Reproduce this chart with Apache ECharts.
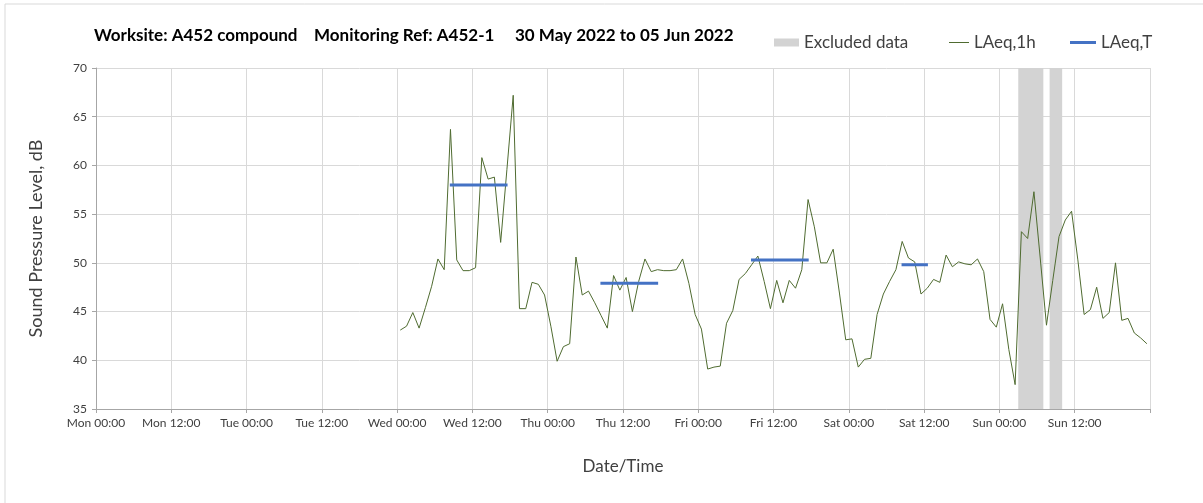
<!DOCTYPE html>
<html>
<head>
<meta charset="utf-8">
<script src="https://cdn.jsdelivr.net/npm/echarts@6/dist/echarts.min.js"></script>
<style>
    html, body { margin: 0; padding: 0; background: #fff; }
    #chart { width: 1203px; height: 503px; }
</style>
</head>
<body>
<div id="chart"></div>
<script>
// x = hours from Mon 00:00, one reading per hour (plotted at hh:30)
var tickLabels = ['Mon 00:00', 'Mon 12:00', 'Tue 00:00', 'Tue 12:00', 'Wed 00:00', 'Wed 12:00',
    'Thu 00:00', 'Thu 12:00', 'Fri 00:00', 'Fri 12:00', 'Sat 00:00', 'Sat 12:00', 'Sun 00:00', 'Sun 12:00'];

var firstHour = 48.5;
var wedValues = [43.1, 43.5, 44.9, 43.3, 45.4, 47.6, 50.4, 49.3, 63.7, 50.3, 49.2, 49.2,
    49.5, 60.8, 58.6, 58.8, 52.1, 59.6, 67.2, 45.3, 45.3, 48.0, 47.8, 46.7];
var thuValues = [43.5, 39.9, 41.4, 41.7, 50.6, 46.7, 47.1, 45.9, 44.6, 43.3, 48.7, 47.2,
    48.5, 45.0, 48.1, 50.4, 49.1, 49.3, 49.2, 49.2, 49.3, 50.4, 47.9, 44.7];
var friValues = [43.2, 39.1, 39.3, 39.4, 43.8, 45.1, 48.3, 48.9, 49.8, 50.7, 48.1, 45.3,
    48.2, 45.9, 48.2, 47.4, 49.3, 56.5, 53.7, 50.0, 50.0, 51.4, 46.9, 42.1];
var satValues = [42.2, 39.3, 40.1, 40.2, 44.7, 46.8, 48.1, 49.3, 52.2, 50.5, 50.1, 46.8,
    47.4, 48.3, 48.0, 50.8, 49.6, 50.1, 49.9, 49.8, 50.4, 49.1, 44.2, 43.4];
var sunValues = [45.8, 41.1, 37.5, 53.2, 52.5, 57.3, 50.5, 43.6, 48.2, 52.7, 54.4, 55.3,
    50.3, 44.7, 45.2, 47.5, 44.3, 44.9, 50.0, 44.1, 44.3, 42.8, 42.3, 41.7];

// LAeq,T periods
var periodStart = [56.4, 80.4, 104.4, 128.4];
var periodEnd = [65.6, 89.6, 113.6, 132.6];
var periodValue = [58.0, 47.9, 50.3, 49.8];

// excluded data bands
var excludedStart = [147, 152];
var excludedEnd = [151, 154];

var allValues = wedValues.concat(thuValues, friValues, satValues, sunValues);
var hourlyData = [];
for (var i = 0; i < allValues.length; i++) {
    hourlyData.push([firstHour + i, allValues[i]]);
}

var bands = [];
for (var j = 0; j < excludedStart.length; j++) {
    bands.push([{xAxis: excludedStart[j]}, {xAxis: excludedEnd[j]}]);
}

var fontName = 'Lato';
var series = [
    {
        name: 'Excluded data',
        type: 'line',
        data: [],
        z: 1,
        markArea: {
            silent: true,
            itemStyle: {color: '#d3d3d3'},
            data: bands
        }
    },
    {
        name: 'LAeq,1h',
        type: 'line',
        data: hourlyData,
        symbol: 'none',
        z: 3,
        lineStyle: {color: '#4f6b30', width: 1},
        itemStyle: {color: '#4f6b30'}
    }
];
for (var k = 0; k < periodStart.length; k++) {
    series.push({
        name: 'LAeq,T',
        type: 'line',
        data: [[periodStart[k], periodValue[k]], [periodEnd[k], periodValue[k]]],
        symbol: 'none',
        z: 4,
        lineStyle: {color: '#4472c4', width: 3},
        itemStyle: {color: '#4472c4'}
    });
}

var legendText = {fontFamily: fontName, fontSize: 17, color: '#404040'};
var option = {
    animation: false,
    title: {
        text: 'Worksite: A452 compound    Monitoring Ref: A452-1     30 May 2022 to 05 Jun 2022',
        left: 89,
        top: 22,
        textStyle: {fontFamily: fontName, fontSize: 17, fontWeight: 'bold', color: '#000'}
    },
    legend: [
        {
            left: 769, top: 29, itemWidth: 25, itemHeight: 8, itemGap: 4,
            textStyle: legendText,
            data: [{name: 'Excluded data', icon: 'rect', itemStyle: {color: '#d3d3d3'}}]
        },
        {
            left: 944, top: 29, itemWidth: 20, itemHeight: 1,
            textStyle: legendText,
            data: [{name: 'LAeq,1h', icon: 'rect', itemStyle: {color: '#4f6b30'}}]
        },
        {
            left: 1065, top: 29, itemWidth: 26, itemHeight: 3,
            textStyle: legendText,
            data: [{name: 'LAeq,T', icon: 'rect', itemStyle: {color: '#4472c4'}}]
        }
    ],
    grid: {left: 96, right: 53, top: 68, bottom: 94},
    xAxis: {
        type: 'value',
        min: 0,
        max: 168,
        interval: 12,
        name: 'Date/Time',
        nameLocation: 'middle',
        nameGap: 49,
        nameTextStyle: {fontFamily: fontName, fontSize: 17, color: '#404040'},
        axisLine: {lineStyle: {color: '#a6a6a6', width: 1}},
        axisTick: {show: true, length: 4, lineStyle: {color: '#a6a6a6'}},
        splitLine: {show: true, lineStyle: {color: '#d9d9d9'}},
        axisLabel: {
            fontFamily: fontName, fontSize: 12, color: '#404040', margin: 8,
            formatter: function (v) {
                var idx = Math.round(v / 12);
                return tickLabels[idx] || '';
            }
        }
    },
    yAxis: {
        type: 'value',
        min: 35,
        max: 70,
        interval: 5,
        name: 'Sound Pressure Level, dB',
        nameLocation: 'middle',
        nameGap: 51,
        nameTextStyle: {fontFamily: fontName, fontSize: 18, color: '#404040'},
        axisLine: {show: true, lineStyle: {color: '#a6a6a6', width: 1}},
        axisTick: {show: true, length: 4, lineStyle: {color: '#a6a6a6'}},
        splitLine: {show: true, lineStyle: {color: '#d9d9d9'}},
        axisLabel: {fontFamily: fontName, fontSize: 12, color: '#404040', margin: 9}
    },
    graphic: [{
        type: 'rect',
        silent: true,
        shape: {x: 5, y: 4, width: 1210, height: 520},
        style: {fill: 'none', stroke: '#d9d9d9', lineWidth: 1}
    }],
    series: series
};

var chart = echarts.init(document.getElementById('chart'));
chart.setOption(option);
</script>
</body>
</html>
